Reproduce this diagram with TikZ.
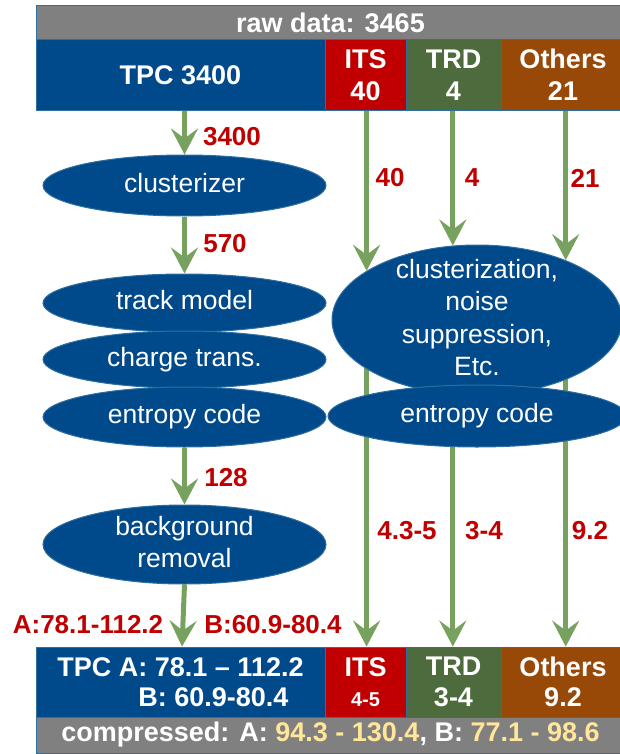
\documentclass[tikz,border=0pt]{standalone}
\usepackage{fontspec}
\setmainfont{Liberation Sans}
\usetikzlibrary{arrows.meta,shapes.geometric}
\pgfdeclarelayer{background}
\pgfsetlayers{background,main}
\definecolor{tblue}{HTML}{004A8C}
\definecolor{tred}{HTML}{C00000}
\definecolor{tdgreen}{HTML}{4E6B3D}
\definecolor{torange}{HTML}{984807}
\definecolor{tgray}{HTML}{808080}
\definecolor{agreen}{HTML}{77A15F}
\definecolor{tyel}{HTML}{FFE699}
\definecolor{edgec}{HTML}{2F6F9F}
\tikzset{
  box/.style={draw=edgec, line width=0.8pt, inner sep=0pt, text=white,
    font=\fontsize{27}{32}\selectfont\bfseries, align=center},
  proc/.style={ellipse, draw=edgec, line width=1pt, fill=tblue, inner sep=0pt,
    text=white, font=\fontsize{26.5}{32.5}\selectfont, text height=19pt, text depth=6pt},
  arr/.style={draw=agreen, line width=5pt, -{Stealth[length=26pt,width=27pt,inset=10pt]}},
  lab/.style={text=tred, font=\fontsize{26}{30}\selectfont\bfseries, inner sep=0pt},
}
\begin{document}
\begin{tikzpicture}[x=1pt,y=-1pt]
\useasboundingbox (0,0) rectangle (619,754);
% top bars
\node[box, fill=tgray, minimum width=589pt, minimum height=34pt] (raw) at (330.5,22.5) {raw data: 3465};
\node[box, fill=tblue, minimum width=289pt, minimum height=71pt] (tpcT) at (180.5,75) {TPC 3400};
\node[box, fill=tred, minimum width=81pt, minimum height=71pt] (itsT) at (365.5,75) {ITS\\40};
\node[box, fill=tdgreen, minimum width=95pt, minimum height=71pt] (trdT) at (453.5,75) {TRD\\4};
\node[box, fill=torange, minimum width=124pt, minimum height=71pt] (othT) at (563,75) {Others\\21};
% bottom bars
\node[box, fill=tblue, minimum width=289pt, minimum height=70pt, align=left,
  font=\fontsize{27}{30.5}\selectfont\bfseries] (tpcB) at (180.5,682)
  {TPC A: 78.1 -- 112.2\\\hspace*{81pt}B: 60.9-80.4};
\node[box, fill=tred, minimum width=81pt, minimum height=70pt,
  font=\fontsize{27}{30.5}\selectfont\bfseries] (itsB) at (365.5,682) {ITS\\{\fontsize{20}{20}\selectfont 4-5}};
\node[box, fill=tdgreen, minimum width=95pt, minimum height=70pt,
  font=\fontsize{27}{30.5}\selectfont\bfseries] (trdB) at (453.5,682) {TRD\\3-4};
\node[box, fill=torange, minimum width=124pt, minimum height=70pt,
  font=\fontsize{27}{30.5}\selectfont\bfseries] (othB) at (563,682) {Others\\9.2};
\node[box, fill=tgray, minimum width=589pt, minimum height=36pt] (comp) at (330.5,735)
  {compressed: A: \textcolor{tyel}{94.3 - 130.4}, B: \textcolor{tyel}{77.1 - 98.6}};
% processing ellipses
\node[proc, minimum width=283pt, minimum height=61pt] (clus) at (184.5,185.5) {clusterizer};
\node[proc, minimum width=283pt, minimum height=58pt] (track) at (184.5,303) {track model};
\node[proc, minimum width=283pt, minimum height=57pt] (charge) at (184.5,359.5) {charge trans.};
\node[proc, minimum width=283pt, minimum height=60pt] (entL) at (184.5,417) {entropy code};
\node[proc, minimum width=283pt, minimum height=79pt] (bg) at (184.5,544.5)
  {\begin{tabular}{@{}c@{}}background\\removal\end{tabular}};
\node[proc, minimum width=290pt, minimum height=150pt] (big) at (477,320)
  {\begin{tabular}{@{}c@{}}clusterization,\\noise\\suppression,\\Etc.\end{tabular}};
\node[proc, minimum width=298pt, minimum height=62pt] (entR) at (477,416) {entropy code};
% arrows TPC
\draw[arr] (clus.north |- tpcT.south) -- (clus.north);
\draw[arr] (clus.south) -- (track.north);
\draw[arr] (entL.south) -- (bg.north);
\draw[arr] (bg.south) -- ([xshift=1.5pt]tpcB.north);
% arrows other detectors
\draw[arr] (big.156.5 |- itsT.south) -- (big.156.5);
\draw[arr] (big.108 |- trdT.south) -- (big.108);
\draw[arr] (big.34.6 |- othT.south) -- (big.34.6);
\begin{pgfonlayer}{background}
\draw[arr] (big.156.5 |- big.center) -- (big.156.5 |- itsB.north);
\draw[arr] (big.108 |- big.center) -- (big.108 |- trdB.north);
\draw[arr] (big.34.6 |- big.center) -- (big.34.6 |- othB.north);
\end{pgfonlayer}
% labels
\node[lab] (l3400) at (232,137) {3400};
\node[lab] (l570) at (225,244) {570};
\node[lab] (l128) at (226,478) {128};
\node[lab] (l40) at (390,178) {40};
\node[lab] (l4) at (472,178) {4};
\node[lab] (l21) at (585,178) {21};
\node[lab] (l43) at (407,531) {4.3-5};
\node[lab] (l34) at (484,531) {3-4};
\node[lab] (l92) at (590,531) {9.2};
\node[lab] (lA) at (88,625) {A:78.1-112.2};
\node[lab] (lB) at (273,625) {B:60.9-80.4};
\end{tikzpicture}
\end{document}
